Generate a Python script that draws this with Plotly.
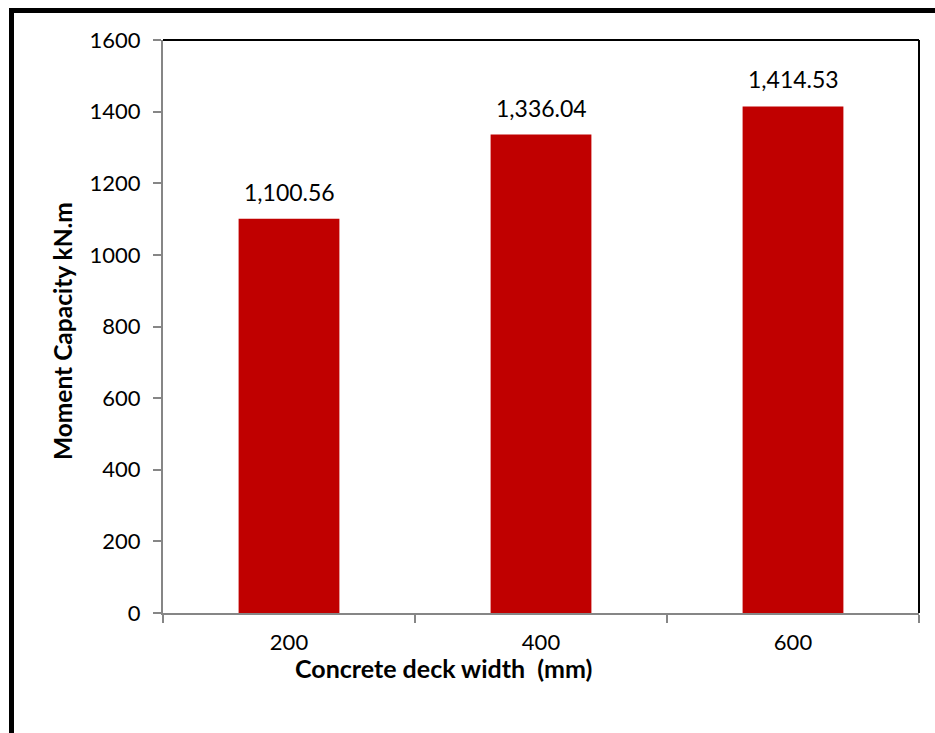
import plotly.graph_objects as go

# Concrete deck width categories (mm) and moment capacity (kN.m)
deck_widths = ["200", "400", "600"]
moment_capacity = [1100.56, 1336.04, 1414.53]
y_ticks = [0, 200, 400, 600, 800, 1000, 1200, 1400, 1600]

W, H = 935, 733
L, R, T, B = 163, 16, 40, 120
pw, ph = W - L - R, H - T - B

BAR = "#C00000"
AXIS_GREY = "#868686"
FONT = "Lato, 'Open Sans', sans-serif"

fig = go.Figure(
    go.Bar(
        x=deck_widths,
        y=moment_capacity,
        marker=dict(color=BAR, line=dict(width=0)),
        hoverinfo="x+y",
    )
)

# value labels above each bar (category index keeps numeric-looking names on the category axis)
for i, val in enumerate(moment_capacity):
    fig.add_annotation(
        x=i, y=val, xref="x", yref="y",
        text=f"{val:,.2f}", showarrow=False,
        yanchor="middle", yshift=27,
        font=dict(family=FONT, size=23, color="black"),
    )

def px_x(p):
    return (p - L) / pw

def px_y(p):
    return (T + ph - p) / ph

# axis titles
fig.add_annotation(
    x=px_x(443), y=px_y(668), xref="paper", yref="paper",
    text="<b>Concrete deck width  (mm)</b>", showarrow=False,
    xanchor="center", yanchor="middle",
    font=dict(family=FONT, size=25, color="black"),
)
fig.add_annotation(
    x=px_x(62), y=px_y(331), xref="paper", yref="paper",
    text="<b>Moment Capacity kN.m</b>", showarrow=False, textangle=-90,
    xanchor="center", yanchor="middle",
    font=dict(family=FONT, size=24.5, color="black"),
)

shapes = [
    # plot-area top and right edges
    dict(type="line", xref="paper", yref="paper", x0=0, x1=1, y0=1, y1=1,
         line=dict(color="black", width=2)),
    dict(type="line", xref="paper", yref="paper", x0=1, x1=1, y0=0, y1=1,
         line=dict(color="black", width=2)),
    # outer frame around the chart
    dict(type="rect", xref="paper", yref="paper",
         x0=px_x(11.5), x1=px_x(W + 20), y0=px_y(H + 20), y1=px_y(10.5),
         line=dict(color="black", width=5), layer="above"),
]

fig.update_layout(
    width=W, height=H,
    margin=dict(l=L, r=R, t=T, b=B, pad=0),
    paper_bgcolor="white", plot_bgcolor="white",
    showlegend=False,
    bargap=0.6,
    shapes=shapes,
    font=dict(family=FONT, size=22, color="black"),
    xaxis=dict(
        type="category",
        categoryorder="array", categoryarray=deck_widths,
        range=[-0.5, len(deck_widths) - 0.5], autorange=False,
        showline=True, linecolor=AXIS_GREY, linewidth=2,
        ticks="outside", tickson="boundaries", ticklen=8, tickwidth=2,
        tickcolor=AXIS_GREY, tickangle=0,
        ticklabelstandoff=9,
        showgrid=False, zeroline=False,
        tickfont=dict(family=FONT, size=22, color="black"),
    ),
    yaxis=dict(
        range=[0, 1600], autorange=False, tickvals=y_ticks,
        showline=True, linecolor=AXIS_GREY, linewidth=2,
        ticks="outside", ticklen=8, tickwidth=2, tickcolor=AXIS_GREY,
        ticklabelstandoff=8,
        showgrid=False, zeroline=False,
        tickfont=dict(family=FONT, size=22, color="black"),
    ),
)

fig.write_html("out.html")
